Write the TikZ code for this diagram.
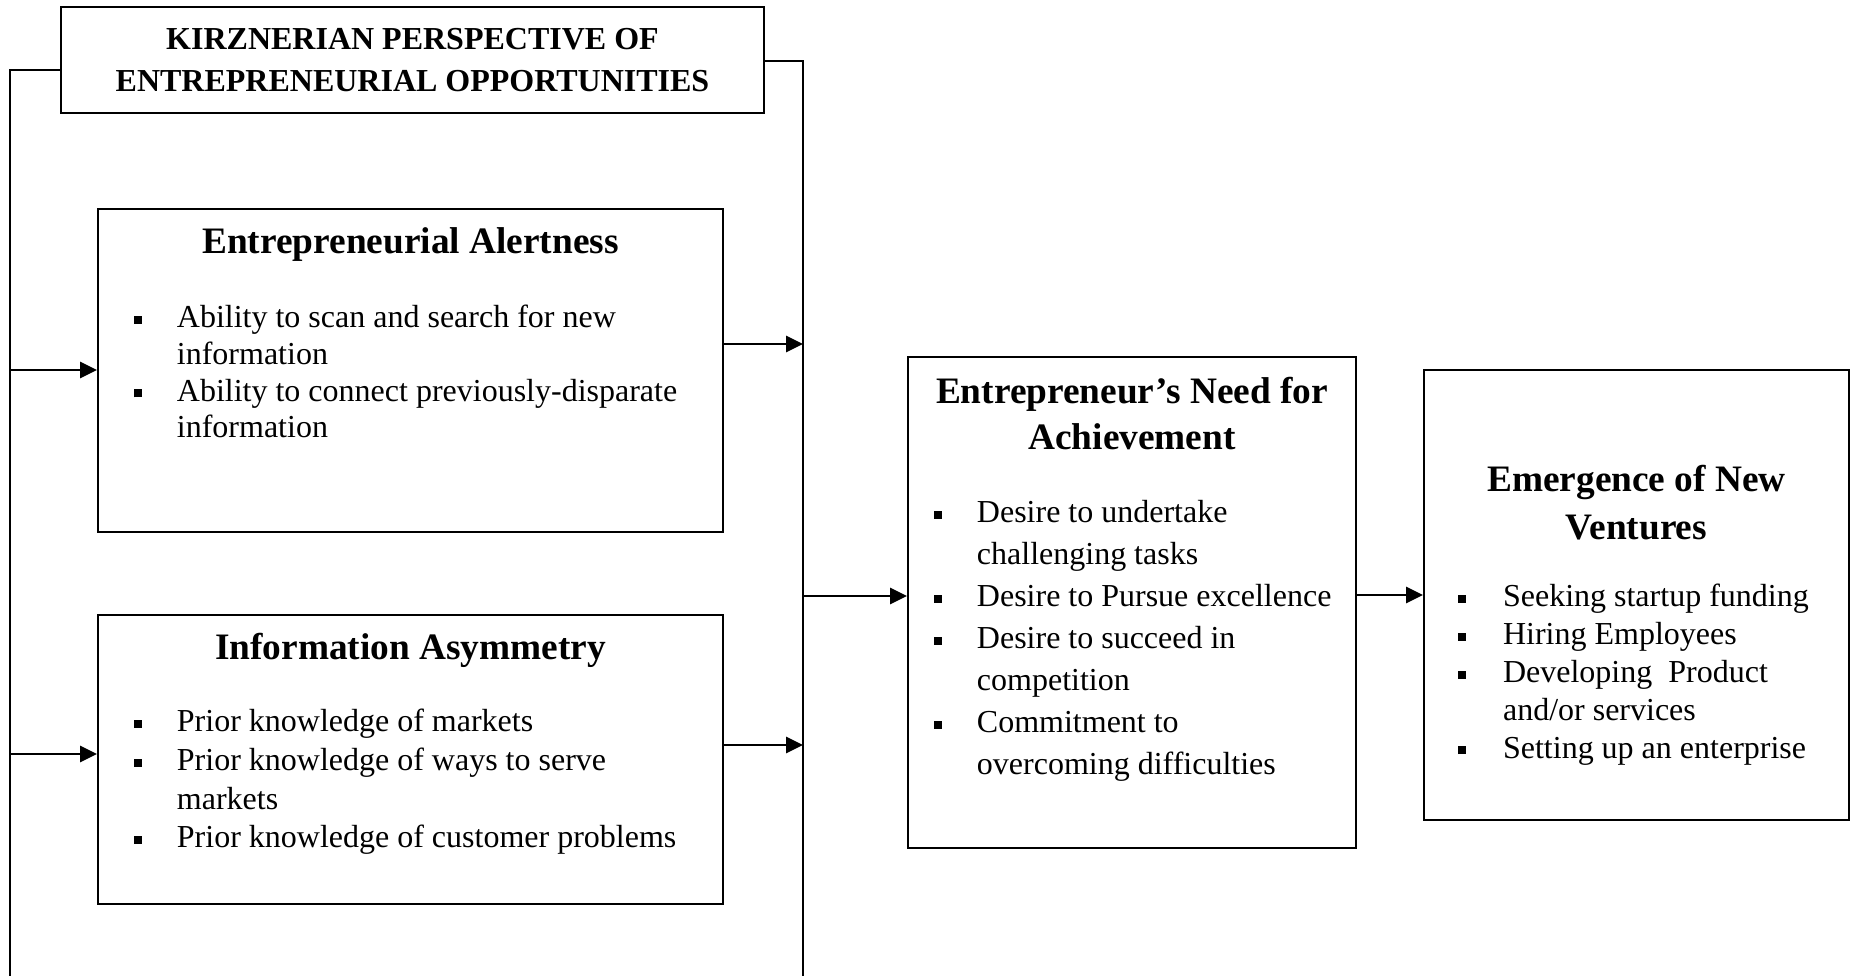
\documentclass[tikz,border=0pt]{standalone}
\usepackage{fontspec}
\setmainfont{Liberation Serif}
\usetikzlibrary{arrows.meta,calc}
\newcommand{\sqb}{\rule[1.5pt]{3pt}{3pt}}
\begin{document}
\begin{tikzpicture}[x=0.375pt,y=-0.375pt,
  box/.style={draw,line width=0.8pt,rectangle,inner sep=0pt},
  lbl/.style={inner sep=0pt,outer sep=0pt},
  conn/.style={line width=0.9pt},
  arr/.style={line width=0.9pt,-{Triangle[length=6.3pt,width=6pt]}},
  head/.style={lbl,anchor=base,font=\bfseries},
  list/.style={lbl,anchor=base west}]
\useasboundingbox (0,0) rectangle (1855,976);

% boxes
\node[box, minimum width=263.6pt, minimum height=39.75pt, align=center,
      font=\fontsize{12}{15.75}\selectfont\bfseries] (title) at (412.5,60)
  {KIRZNERIAN PERSPECTIVE OF\\ENTREPRENEURIAL OPPORTUNITIES};
\node[box, minimum width=234.4pt, minimum height=121.1pt] (alert) at (410.5,370.5) {};
\node[box, minimum width=234.4pt, minimum height=108.4pt] (asym) at (410.5,759.5) {};
\node[box, minimum width=168pt, minimum height=184.1pt] (need) at (1132,602.5) {};
\node[box, minimum width=159.4pt, minimum height=168.75pt] (emerg) at (1636.5,595) {};

% headings
\node[head] (alertH) at (410.5,254) {\fontsize{14}{16.9}\selectfont Entrepreneurial Alertness};
\node[head] (asymH) at (410.5,660) {\fontsize{14}{16.9}\selectfont Information Asymmetry};
\node[head] (needH) at (1132,404) {\fontsize{14}{16.9}\selectfont
  \begin{tabular}[t]{@{}c@{}}Entrepreneur’s Need for\\Achievement\end{tabular}};
\node[head] (emergH) at (1636.5,492) {\fontsize{14}{18}\selectfont
  \begin{tabular}[t]{@{}c@{}}Emergence of New\\Ventures\end{tabular}};

% lists
\node[list] (alertL) at (134,328) {\fontsize{12}{13.75}\selectfont
  \begin{tabular}[t]{@{}p{16.1pt}@{}l@{}}
  \sqb & Ability to scan and search for new\\
       & information\\
  \sqb & Ability to connect previously-disparate\\
       & information
  \end{tabular}};
\node[list] (asymL) at (134,732) {\fontsize{12}{14.5}\selectfont
  \begin{tabular}[t]{@{}p{16.1pt}@{}l@{}}
  \sqb & Prior knowledge of markets\\
  \sqb & Prior knowledge of ways to serve\\
       & markets\\
  \sqb & Prior knowledge of customer problems
  \end{tabular}};
\node[list] (needL) at (934,523) {\fontsize{12}{15.75}\selectfont
  \begin{tabular}[t]{@{}p{16.1pt}@{}l@{}}
  \sqb & Desire to undertake\\
       & challenging tasks\\
  \sqb & Desire to Pursue excellence\\
  \sqb & Desire to succeed in\\
       & competition\\
  \sqb & Commitment to\\
       & overcoming difficulties
  \end{tabular}};
\node[list] (emergL) at (1458,607) {\fontsize{12}{14.16}\selectfont
  \begin{tabular}[t]{@{}p{16.9pt}@{}l@{}}
  \sqb & Seeking startup funding\\
  \sqb & Hiring Employees\\
  \sqb & Developing\ \ Product\\
       & and/or services\\
  \sqb & Setting up an enterprise
  \end{tabular}};

% bracket lines
\coordinate (Ltop) at (10,70);
\coordinate (Lbot) at (10,976);
\coordinate (Rtop) at (803,61);
\coordinate (Rbot) at (803,976);
\draw[conn] (title.west |- Ltop) -- (Ltop) -- (Lbot);
\draw[conn] (title.east |- Rtop) -- (Rtop) -- (Rbot);

% arrows
\coordinate (La) at (10,370);
\coordinate (Lb) at (10,754);
\coordinate (Ra) at (803,344);
\coordinate (Rb) at (803,745);
\coordinate (Rc) at (803,596);
\coordinate (Nc) at (1356,595);
\draw[arr] (La) -- (La -| alert.west);
\draw[arr] (Lb) -- (Lb -| asym.west);
\draw[arr] (Ra -| alert.east) -- (Ra);
\draw[arr] (Rb -| asym.east) -- (Rb);
\draw[arr] (Rc) -- (Rc -| need.west);
\draw[arr] (need.east |- Nc) -- (emerg.west |- Nc);
\end{tikzpicture}
\end{document}
